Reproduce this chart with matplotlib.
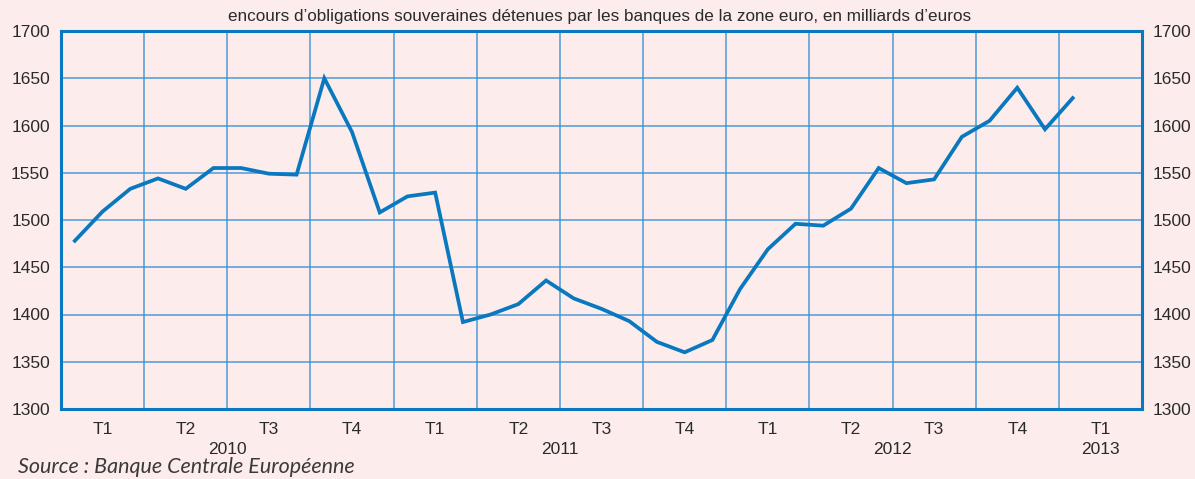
import matplotlib
matplotlib.use("Agg")
import matplotlib.pyplot as plt
import numpy as np

# Monthly outstanding sovereign bonds held by euro area banks (bn EUR), Jan 2010 - Jan 2013
values = [1478, 1509, 1533, 1544, 1533, 1555, 1555, 1549, 1548, 1650, 1593, 1508,
          1525, 1529, 1392, 1400, 1411, 1436, 1417, 1406, 1393, 1371, 1360, 1373,
          1427, 1469, 1496, 1494, 1512, 1555, 1539, 1543, 1588, 1605, 1640, 1596,
          1629]
quarter_labels = ["T1", "T2", "T3", "T4"] * 3 + ["T1"]
year_labels = ["2010", "2011", "2012", "2013"]
yticks = [1300, 1350, 1400, 1450, 1500, 1550, 1600, 1650, 1700]
title = "encours d\u2019obligations souveraines détenues par les banques de la zone euro, en milliards d\u2019euros"
source = "Source : Banque Centrale Européenne"

BG = "#fdecec"
BLUE = "#0a78be"
GRID = "#3a92d2"
TXT = "#2a2a2a"

plt.rcParams['font.family'] = ['Liberation Sans', 'DejaVu Sans']

fig = plt.figure(figsize=(11.95, 4.79), dpi=100, facecolor=BG)
ax = fig.add_axes([61/1195, 1-409/479, (1142-61)/1195, (409-31)/479])
ax.set_facecolor(BG)

n_months = 39
x = np.arange(len(values)) + 0.5
ax.plot(x, values, color=BLUE, lw=2.7, solid_joinstyle='miter', zorder=3)

ax.set_xlim(0, n_months)
ax.set_ylim(1300, 1700)
ax.set_yticks(yticks)
ax.set_xticks(np.arange(0, n_months + 1, 3))
ax.set_xticklabels([])
ax.grid(True, color=GRID, lw=1.1, alpha=0.9)
ax.set_axisbelow(True)
for s in ax.spines.values():
    s.set_color(BLUE)
    s.set_linewidth(2.2)
ax.tick_params(axis='both', length=0, labelsize=12.5, colors=TXT, pad=8)
ax.tick_params(axis='y', labelright=True, labelleft=True)
ax.tick_params(axis='x', pad=0)

# quarter labels
for i, lab in enumerate(quarter_labels):
    ax.text(3 * i + 1.5, -0.053, lab, transform=ax.get_xaxis_transform(),
            ha='center', va='center', fontsize=12.5, color=TXT)
# year labels centred on the year span
year_centres = [6, 18, 30, 37.5]
for xc, lab in zip(year_centres, year_labels):
    ax.text(xc, -0.107, lab, transform=ax.get_xaxis_transform(),
            ha='center', va='center', fontsize=12.5, color=TXT)

fig.text(600/1195, 1-17/479, title, ha='center', va='center', fontsize=12.3, color=TXT)
fig.text(18/1195, 1-467/479, source, ha='left', va='center', fontsize=15.5,
         color="#3a3a3a", style='italic', family=['Lato', 'DejaVu Sans'])

fig.savefig("out.png", dpi=100, facecolor=BG)
